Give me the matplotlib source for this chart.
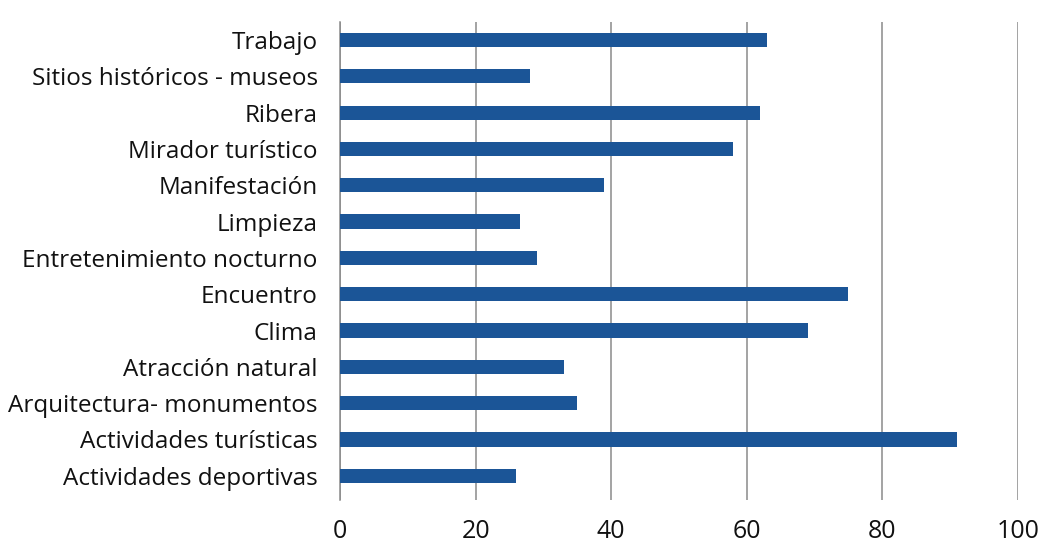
import matplotlib.pyplot as plt

# categories, top to bottom as shown
categories = [
    "Trabajo",
    "Sitios históricos - museos",
    "Ribera",
    "Mirador turístico",
    "Manifestación",
    "Limpieza",
    "Entretenimiento nocturno",
    "Encuentro",
    "Clima",
    "Atracción natural",
    "Arquitectura- monumentos",
    "Actividades turísticas",
    "Actividades deportivas",
]
values = [63, 28, 62, 58, 39, 26.5, 29, 75, 69, 33, 35, 91, 26]
x_ticks = [0, 20, 40, 60, 80, 100]

plt.rcParams['font.family'] = ['Open Sans', 'DejaVu Sans']

fig = plt.figure(figsize=(10.43, 5.45), dpi=100)
ax = fig.add_axes([0.326, 0.083, 0.650, 0.877])

# plot bottom-up so the first category sits at the top
cats = categories[::-1]
vals = values[::-1]
ypos = list(range(len(cats)))
ax.barh(ypos, vals, height=0.39, color="#1b5597", zorder=3)

ax.set_yticks(ypos)
ax.set_yticklabels(cats, fontsize=17.5, color="#111111")
ax.set_xticks(x_ticks)
ax.set_xticklabels([str(t) for t in x_ticks], fontsize=18, color="#111111")
ax.set_xlim(0, 100)
ax.set_ylim(-0.66, 12.5)

ax.grid(axis="x", color="#8a8a8a", linewidth=1.1, zorder=0)
ax.tick_params(axis="both", length=0)
ax.tick_params(axis="x", pad=14)
ax.tick_params(axis="y", pad=16)
for side in ["top", "right", "bottom"]:
    ax.spines[side].set_visible(False)
ax.spines["left"].set_color("#8a8a8a")
ax.spines["left"].set_linewidth(1.1)

fig.savefig("out.png", dpi=100, facecolor="white")
